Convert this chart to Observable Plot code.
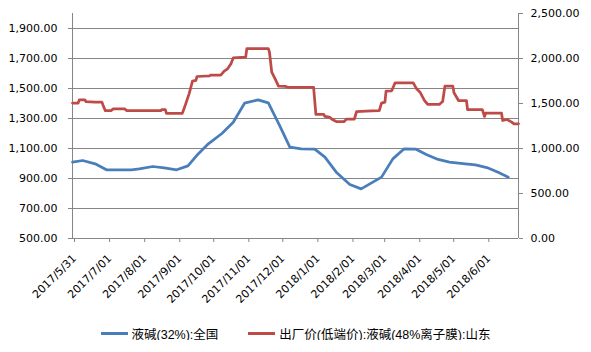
<!DOCTYPE html>
<html>
<head>
<meta charset="utf-8">
<script src="https://cdn.jsdelivr.net/npm/d3@7"></script>
<script src="https://cdn.jsdelivr.net/npm/@observablehq/plot@0.6"></script>
<style>
  html, body { margin: 0; padding: 0; background: #fff; }
  #chart { width: 591px; }
  .legend { display: flex; justify-content: center; align-items: center; margin-top: 16px; height: 14px;
    font-family: "Liberation Sans", "Noto Sans CJK SC", sans-serif; font-size: 12.5px; color: #000; }
  .item { display: flex; align-items: center; }
  .sw { width: 27px; height: 3px; margin-right: 4px; }
</style>
</head>
<body>
<div id="chart"></div>
<script>
// Series 1: 液碱(32%):全国 (left axis)
const blueDates = ["2017-05-31","2017-06-09","2017-06-20","2017-06-30","2017-07-22","2017-07-29","2017-08-10","2017-08-20","2017-08-31","2017-09-10","2017-09-19","2017-09-28","2017-10-10","2017-10-20","2017-10-30","2017-11-11","2017-11-20","2017-11-30","2017-12-09","2017-12-19","2017-12-31","2018-01-09","2018-01-19","2018-01-31","2018-02-10","2018-02-28","2018-03-10","2018-03-20","2018-03-30","2018-04-09","2018-04-19","2018-04-29","2018-05-13","2018-05-22","2018-06-01","2018-06-11","2018-06-20"];
const blueValues = [1009,1020,998,958,958,964,980,971,958,984,1064,1131,1200,1275,1402,1424,1404,1253,1109,1098,1096,1042,942,860,831,909,1031,1098,1096,1058,1027,1009,998,991,973,942,909];

// Series 2: 出厂价(低端价):液碱(48%离子膜):山东 (right axis)
const redDates = ["2017-05-31","2017-06-05","2017-06-06","2017-06-11","2017-06-12","2017-06-20","2017-06-26","2017-06-27","2017-06-29","2017-07-04","2017-07-06","2017-07-16","2017-07-18","2017-08-17","2017-08-18","2017-08-21","2017-08-22","2017-09-05","2017-09-07","2017-09-11","2017-09-14","2017-09-17","2017-09-18","2017-09-29","2017-09-30","2017-10-09","2017-10-12","2017-10-15","2017-10-18","2017-10-20","2017-10-31","2017-11-01","2017-11-20","2017-11-21","2017-11-23","2017-11-26","2017-11-29","2017-12-05","2017-12-08","2017-12-30","2018-01-01","2018-01-08","2018-01-09","2018-01-13","2018-01-16","2018-01-19","2018-01-26","2018-01-28","2018-02-04","2018-02-06","2018-02-19","2018-02-26","2018-02-28","2018-03-03","2018-03-04","2018-03-09","2018-03-12","2018-03-28","2018-03-31","2018-04-03","2018-04-07","2018-04-10","2018-04-20","2018-04-23","2018-04-25","2018-05-02","2018-05-03","2018-05-07","2018-05-14","2018-05-15","2018-05-28","2018-05-30","2018-05-31","2018-06-14","2018-06-15","2018-06-19","2018-06-23","2018-06-25","2018-06-29"];
const redValues = [1505,1505,1540,1540,1520,1515,1515,1480,1420,1420,1440,1440,1420,1420,1433,1433,1390,1390,1459,1607,1748,1756,1800,1807,1815,1815,1859,1885,1941,2007,2015,2110,2110,2070,1848,1774,1693,1690,1678,1678,1378,1378,1356,1348,1319,1300,1300,1326,1326,1411,1418,1422,1504,1515,1637,1641,1730,1730,1663,1626,1533,1489,1489,1522,1693,1693,1619,1533,1533,1433,1433,1356,1393,1393,1311,1322,1293,1274,1274];

// Axis ticks
const xTickLabels = ["2017/5/31","2017/7/01","2017/8/01","2017/9/01","2017/10/01","2017/11/01","2017/12/01","2018/1/01","2018/2/01","2018/3/01","2018/4/01","2018/5/01","2018/6/01"];
const xDomain = ["2017-05-31","2018-06-29"];
const leftTicks = [500,700,900,1100,1300,1500,1700,1900];
const leftDomain = [500,2000];
const rightTicks = [0,500,1000,1500,2000,2500];
const rightDomain = [0,2500];

const seriesNames = ["液碱(32%):全国","出厂价(低端价):液碱(48%离子膜):山东"];
const seriesColors = ["#4A7EBB","#BE4B48"];

const parseISO = d3.utcParse("%Y-%m-%d");
const parseLabel = d3.utcParse("%Y/%m/%d");
const fmtLabel = d3.utcFormat("%Y/%-m/%d");
const fmtNum = d3.format(",.2f");

// map right-axis values into the left-axis domain
const k = (leftDomain[1]-leftDomain[0])/(rightDomain[1]-rightDomain[0]);
const toLeft = v => leftDomain[0] + (v - rightDomain[0]) * k;
const fromLeft = y => (y - leftDomain[0]) / k + rightDomain[0];

const blue = blueDates.map((d,i) => ({date: parseISO(d), value: blueValues[i]}));
const red = redDates.map((d,i) => ({date: parseISO(d), value: redValues[i]}));
const xTicks = xTickLabels.map(parseLabel);
const grid = "#868686";

const chart = Plot.plot({
  width: 591,
  height: 310,
  marginLeft: 72,
  marginRight: 73,
  marginTop: 13,
  marginBottom: 72,
  x: {type: "utc", domain: xDomain.map(parseISO)},
  y: {domain: leftDomain},
  style: {fontFamily: "DejaVu Sans", fontSize: "11px", color: "#000", background: "#fff", overflow: "visible"},
  marks: [
    Plot.gridY(leftTicks, {stroke: grid, strokeOpacity: 1}),
    Plot.axisY(leftTicks, {anchor: "left", tickSize: 4, tickPadding: 11, tickFormat: fmtNum, stroke: grid, fill: "#000", label: null}),
    Plot.axisY(rightTicks.map(toLeft), {anchor: "right", tickSize: 4, tickPadding: 8, tickFormat: d => fmtNum(Math.round(fromLeft(d)*100)/100), stroke: grid, fill: "#000", label: null}),
    Plot.axisX(xTicks, {anchor: "bottom", tickSize: 4, tickPadding: 14, tickRotate: -45, dx: 2, tickFormat: fmtLabel, stroke: grid, fill: "#000", label: null}),
    Plot.ruleX([parseISO(xDomain[0]), parseISO(xDomain[1])], {y1: leftDomain[0], y2: leftDomain[1], stroke: grid}),
    Plot.ruleY([leftDomain[0]], {stroke: grid}),
    Plot.line(blue, {x: "date", y: "value", stroke: seriesColors[0], strokeWidth: 2.75}),
    Plot.line(red, {x: "date", y: d => toLeft(d.value), stroke: seriesColors[1], strokeWidth: 2.75})
  ]
});
document.getElementById("chart").appendChild(chart);

const legend = document.createElement("div");
legend.className = "legend";
seriesNames.forEach((name, i) => {
  const it = document.createElement("div");
  it.className = "item";
  if (i > 0) it.style.marginLeft = "30px";
  const sw = document.createElement("div");
  sw.className = "sw";
  sw.style.background = seriesColors[i];
  const t = document.createElement("span");
  t.textContent = name;
  it.appendChild(sw); it.appendChild(t);
  legend.appendChild(it);
});
document.getElementById("chart").appendChild(legend);
</script>
</body>
</html>
